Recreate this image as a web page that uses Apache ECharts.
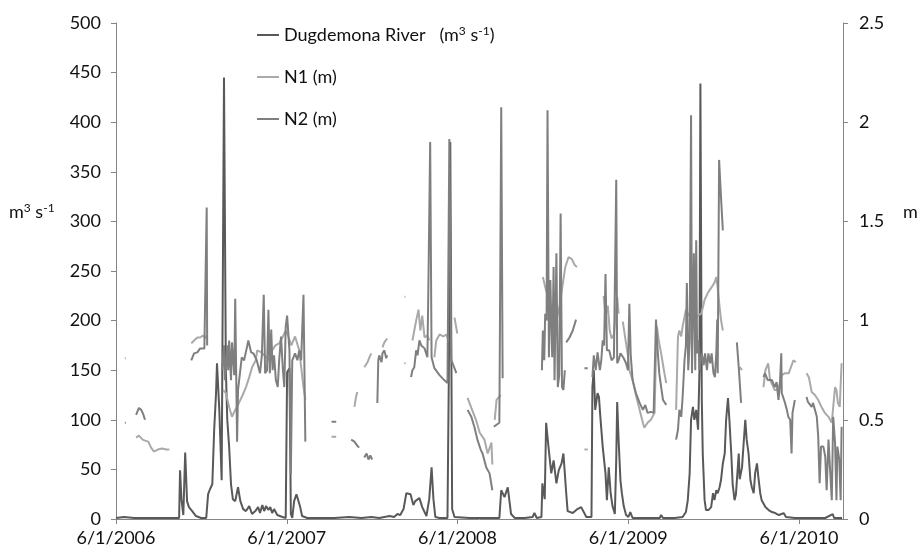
<!DOCTYPE html>
<html>
<head>
<meta charset="utf-8">
<script src="https://cdn.jsdelivr.net/npm/echarts@6/dist/echarts.min.js"></script>
<style>
  html, body { margin: 0; padding: 0; background: #fff; }
  #chart { width: 920px; height: 553px; }
</style>
</head>
<body>
<div id="chart"></div>
<script>
// days counted from 6/1/2006
const startDate = Date.UTC(2006, 5, 1);
const xTickDays = [0, 365.25, 730.5, 1095.75, 1461];

// Dugdemona River discharge (m3 s-1)
const riverDay = [
  0, 17, 39, 71, 103, 135, 137, 140, 144, 148,
  152, 156, 163, 171, 182, 193, 197, 201, 206, 210,
  214, 216, 221, 226, 231, 235, 238, 242, 246, 250,
  255, 261, 266, 272, 278, 285, 291, 298, 304, 308,
  313, 317, 321, 326, 330, 334, 338, 345, 356, 363,
  366, 371, 374, 377, 381, 386, 390, 394, 398, 409,
  435, 467, 499, 525, 546, 563, 585, 595, 602, 608,
  615, 621, 630, 636, 640, 649, 655, 664, 670, 675,
  679, 683, 692, 709, 712, 715, 719, 724, 756, 788,
  820, 824, 831, 838, 845, 853, 874, 891, 895, 900,
  910, 912, 917, 920, 925, 931, 936, 942, 947, 953,
  957, 963, 966, 977, 987, 995, 1006, 1017, 1019, 1022,
  1025, 1030, 1033, 1036, 1041, 1047, 1050, 1054, 1058, 1062,
  1067, 1070, 1072, 1075, 1079, 1082, 1086, 1091, 1096, 1100,
  1105, 1131, 1163, 1166, 1170, 1195, 1212, 1219, 1223, 1227,
  1230, 1234, 1237, 1241, 1245, 1248, 1250, 1253, 1255, 1259,
  1262, 1267, 1273, 1277, 1280, 1284, 1287, 1291, 1294, 1298,
  1302, 1305, 1309, 1312, 1316, 1319, 1323, 1326, 1332, 1334,
  1339, 1342, 1346, 1349, 1353, 1357, 1360, 1364, 1367, 1371,
  1374, 1378, 1381, 1389, 1396, 1403, 1410, 1418, 1428, 1433,
  1452, 1484, 1517, 1533, 1536, 1553
];
const riverFlow = [
  1, 2, 1, 1, 1, 1, 49, 20, 4, 67,
  18, 12, 8, 3, 1, 1, 25, 30, 35, 90,
  127, 157, 110, 39, 445, 150, 100, 73, 35, 20,
  18, 32, 18, 10, 8, 13, 5, 8, 12, 6,
  14, 8, 13, 9, 12, 6, 10, 4, 2, 1,
  148, 152, 5, 1, 18, 25, 24, 12, 3, 1,
  1, 1, 2, 1, 2, 1, 3, 2, 5, 4,
  10, 26, 25, 14, 18, 21, 12, 3, 20, 52,
  20, 2, 1, 1, 150, 380, 10, 2, 1, 1,
  1, 29, 22, 32, 5, 1, 1, 2, 6, 1,
  2, 36, 20, 97, 73, 46, 59, 36, 49, 56,
  66, 26, 8, 6, 10, 12, 2, 2, 133, 150,
  110, 127, 123, 103, 73, 46, 19, 52, 26, 13,
  5, 60, 118, 80, 39, 26, 13, 4, 2, 7,
  1, 1, 1, 4, 1, 1, 2, 7, 19, 46,
  100, 113, 100, 110, 90, 150, 439, 120, 66, 19,
  9, 9, 12, 26, 19, 29, 26, 32, 39, 56,
  66, 100, 122, 100, 66, 35, 19, 25, 66, 40,
  52, 73, 100, 80, 66, 39, 32, 26, 46, 56,
  42, 26, 19, 12, 9, 7, 6, 4, 6, 2,
  1, 1, 1, 5, 1, 1
];

// N1 water level (m), null = gap in record
const n1Day = [
  19, 21, null,
  43, 49, 57, 62, 69, 75, 81, 84, 89, 99, 107, 114, null,
  161, 167, 174, 180, 186, 191, 193, null,
  229, 235, 242, 248, 255, 263, 271, 278, 285, 291, 299, 302, 311, 319, 328, 334, 341, 349, 356, 363, 368, 375, 383, 392, 401, 405, null,
  461, 471, null,
  510, 513, 516, null,
  531, 538, 542, 546, null,
  570, 574, 580, null,
  617, 619, null,
  634, 638, 642, 647, 651, 655, 660, 666, 670, null,
  681, 685, 692, 700, 707, 711, null,
  724, 730, null,
  752, 760, 770, 778, 788, 795, 799, 803, 805, null,
  810, 814, 818, 823, null,
  913, 919, 925, 932, 938, 942, 949, 955, 961, 968, 975, 981, 986, null,
  1002, 1009, null,
  1043, 1047, 1052, 1056, 1060, 1065, 1072, 1075, null,
  1084, 1090, 1095, 1098, 1105, 1112, 1120, 1127, 1130, 1137, 1144, 1152, 1155, 1157, 1161, 1166, 1173, 1177, null,
  1198, 1202, 1205, 1209, 1212, 1219, 1225, 1231, 1238, 1244, 1252, 1259, 1266, 1273, 1280, 1284, 1287, 1291, 1294, 1298, null,
  1334, 1339, null,
  1385, 1389, 1395, 1399, 1409, 1416, 1424, 1431, 1439, 1449, 1454, null,
  1477, 1482, 1488, 1495, 1502, 1509, 1516, 1524, 1531, 1534, 1538, 1541, 1544, 1548, 1552
];
const n1Level = [
  0.81, 0.81, null,
  0.41, 0.42, 0.40, 0.395, 0.39, 0.36, 0.34, 0.35, 0.35, 0.355, 0.35, 0.35, null,
  0.885, 0.90, 0.915, 0.915, 0.925, 0.91, 0.925, null,
  0.65, 0.635, 0.565, 0.515, 0.55, 0.585, 0.625, 0.665, 0.715, 0.765, 0.80, 0.85, 0.84, 0.82, 0.80, 0.85, 0.875, 0.885, 0.915, 0.95, 0.925, 0.875, 0.92, 0.85, 0.665, 0.60, null,
  0.415, 0.415, null,
  0.565, 0.61, 0.64, null,
  0.765, 0.79, 0.815, 0.835, null,
  0.865, 0.89, 0.91, null,
  1.12, 1.12, null,
  0.90, 0.95, 1.0, 1.055, 0.95, 1.025, 0.915, 0.925, 0.90, null,
  0.815, 0.90, 0.93, 0.92, 0.93, 0.90, null,
  1.015, 0.935, null,
  0.61, 0.56, 0.50, 0.435, 0.40, 0.33, 0.33, 0.385, 0.275, null,
  0.50, 0.60, 0.59, 0.625, null,
  1.22, 1.16, 1.11, 1.025, 0.95, 1.0, 1.075, 1.175, 1.27, 1.32, 1.31, 1.28, 1.27, null,
  0.35, 0.35, null,
  1.125, 1.025, 1.075, 0.95, 0.91, 0.93, 1.12, 1.035, null,
  0.995, 0.90, 0.825, 0.75, 0.70, 0.625, 0.55, 0.485, 0.46, 0.485, 0.50, 0.535, 0.835, 0.97, 0.90, 0.835, 0.735, 0.685, null,
  0.55, 0.92, 0.95, 0.92, 0.97, 1.055, 1.025, 1.05, 1.0, 1.025, 1.035, 1.105, 1.14, 1.165, 1.19, 1.22, 1.165, 1.07, 1.005, 0.95, null,
  0.765, 0.75, null,
  0.665, 0.75, 0.785, 0.70, 0.65, 0.65, 0.725, 0.735, 0.735, 0.80, 0.79, null,
  0.735, 0.715, 0.64, 0.625, 0.60, 0.565, 0.535, 0.515, 0.485, 0.475, 0.665, 0.65, 0.585, 0.565, 0.785
];

// N2 water level (m), null = gap in record
const n2Day = [
  19, 21, null,
  43, 49, 54, 58, 62, null,
  161, 167, 174, 180, 189, 193, 194, 195, null,
  227, 231, 233, 238, 240, 242, 246, 248, 253, 255,
  259, 261, 269, 274, 280, 283, 289, 294, 301, 308,
  312, 316, 319, 323, 326, 329, 332, 335, 338, 342,
  346, 349, 353, 357, 360, 363, 366, 371, 374, 377,
  383, 388, 392, 396, 401, 405, null,
  461, 471, null,
  503, 510, 516, 520, null,
  531, 536, 540, 544, 548, null,
  559, 561, 563, 568, 570, 574, 578, 580, null,
  617, 619, null,
  631, 634, 638, 642, 645, 649, 653, 660, 666, 668, 672, 675, 681, 692, 700, 709, 713, 717, 720, 728, null,
  752, 760, 767, 773, 780, 784, 792, 799, 805, null,
  808, 814, 820, 824, 827, null,
  911, 913, 916, 918, 921, 923, 926, 929, 933, 936, 938, 942, 945, 948, 951, 954, 957, 960, null,
  963, 970, 977, 984, null,
  1002, 1009, null,
  1019, 1022, 1026, 1030, 1035, 1038, 1041, 1044, 1047, 1050,
  1055, 1060, 1065, 1070, 1072, 1075, 1079, 1082, 1086, 1091,
  1095, 1098, 1101, 1105, 1112, 1120, 1127, 1132, 1137, 1144,
  1150, 1155, 1159, 1162, 1166, 1170, 1177, null,
  1198, 1202, 1205, 1209, 1212, 1216, 1219, 1221, 1224, 1227,
  1230, 1232, 1236, 1239, 1241, 1243, 1246, 1248, 1253, 1257,
  1260, 1264, 1267, 1271, 1274, 1278, 1281, 1284, 1286, 1287,
  1290, 1294, 1298, null,
  1328, 1332, 1333, 1337, null,
  1385, 1388, 1394, 1403, 1409, 1413, 1417, 1420, 1423, 1424,
  1431, 1435, 1438, 1442, 1445, 1447, 1452, null,
  1477, 1480, 1483, 1488, 1491, 1495, 1499, 1502, 1505, 1508,
  1513, 1517, 1520, 1524, 1527, 1531, 1534, 1538, 1541, 1543,
  1547, 1550, 1552
];
const n2Level = [
  0.485, 0.485, null,
  0.525, 0.56, 0.55, 0.53, 0.50, null,
  0.80, 0.835, 0.84, 0.86, 0.86, 0.86, 1.57, 0.875, null,
  0.75, 0.875, 0.70, 0.875, 0.75, 0.90, 0.70, 0.89, 0.725, 1.11,
  0.39, 0.65, 0.815, 0.80, 0.865, 0.90, 0.84, 0.835, 0.80, 0.735,
  0.825, 1.13, 0.735, 0.75, 1.055, 0.735, 0.955, 0.75, 0.825, 0.70,
  0.665, 0.80, 0.92, 0.75, 0.665, 0.97, 1.025, 0.85, 0.225, 0.80,
  0.835, 0.80, 0.85, 0.80, 1.13, 0.39, null,
  0.49, 0.49, null,
  0.40, 0.39, 0.37, 0.36, null,
  0.31, 0.33, 0.30, 0.32, 0.30, null,
  0.585, 0.80, 0.825, 0.79, 0.835, 0.85, 0.81, 0.825, null,
  0.785, 0.785, null,
  0.715, 0.75, 0.765, 0.85, 0.825, 0.90, 0.875, 0.86, 0.815, 1.14, 1.90, 0.815, 0.76, 0.725, 0.705, 0.685, 1.915, 0.80, 0.785, 0.735, null,
  0.55, 0.515, 0.46, 0.40, 0.35, 0.33, 0.26, 0.23, 0.145, null,
  0.465, 0.475, 0.485, 2.075, 0.71, null,
  0.75, 0.95, 0.80, 1.035, 1.0, 2.06, 0.815, 1.205, 0.815, 1.27, 0.70, 1.34, 0.665, 0.725, 1.54, 0.665, 0.65, 0.75, null,
  0.89, 0.915, 0.95, 1.005, null,
  0.76, 0.76, null,
  0.715, 0.825, 0.75, 0.84, 0.75, 0.80, 0.90, 0.875, 1.235, 0.85,
  0.85, 0.80, 0.815, 1.71, 0.785, 0.80, 0.835, 0.84, 0.81, 0.785,
  0.75, 1.085, 0.825, 0.70, 0.635, 0.585, 0.55, 0.575, 0.535, 0.54,
  0.535, 1.005, 0.835, 0.735, 0.665, 0.60, 0.575, null,
  0.40, 0.45, 0.55, 0.515, 0.615, 0.80, 0.875, 1.19, 0.75, 0.90,
  2.035, 0.735, 1.34, 0.75, 1.405, 0.835, 0.90, 0.75, 0.835, 0.775,
  0.835, 0.75, 0.835, 0.785, 0.835, 0.735, 0.715, 0.835, 1.005, 0.735,
  1.81, 1.625, 1.455, null,
  0.89, 0.765, 0.775, 0.585, null,
  0.715, 0.735, 0.70, 0.70, 0.665, 0.69, 0.60, 0.675, 0.835, 0.635,
  0.585, 0.55, 0.515, 0.50, 0.33, 0.535, 0.60, null,
  0.615, 0.59, 0.60, 0.565, 0.585, 0.55, 0.515, 0.415, 0.18, 0.365,
  0.365, 0.315, 0.145, 0.40, 0.265, 0.095, 0.515, 0.385, 0.095, 0.365,
  0.30, 0.095, 0.465
];

const leftTicks = { min: 0, max: 500, interval: 50 };
const rightTicks = { min: 0, max: 2.5, interval: 0.5 };

function pairs(days, vals) {
  const out = [];
  for (let i = 0; i < days.length; i++) {
    if (days[i] === null || vals[i] === null) {
      out.push([days[i - 1] + 0.5, '-']);
    } else {
      out.push([days[i], vals[i]]);
    }
  }
  return out;
}

function dateLabel(v) {
  const d = new Date(startDate + Math.round(v) * 86400000);
  return (d.getUTCMonth() + 1) + '/' + d.getUTCDate() + '/' + d.getUTCFullYear();
}

const font = 'Lato, "Open Sans", sans-serif';
const axisGray = '#868686';
const textColor = '#111';

const chart = echarts.init(document.getElementById('chart'));
chart.setOption({
  animation: false,
  backgroundColor: '#fff',
  textStyle: { fontFamily: font },
  grid: { left: 116, right: 77, top: 23, bottom: 34, containLabel: false },
  legend: {
    orient: 'vertical',
    left: 252,
    top: 20,
    itemWidth: 22,
    itemHeight: 2,
    itemGap: 22,
    icon: 'rect',
    textStyle: {
      fontFamily: font,
      fontSize: 18,
      color: textColor,
      lineHeight: 20,
      rich: {
        t: { fontFamily: font, fontSize: 18, color: textColor },
        sup: { fontFamily: font, fontSize: 12, color: textColor, padding: [0, 0, 8, 0] }
      }
    },
    formatter: function (name) {
      if (name === 'Dugdemona River') {
        return '{t|Dugdemona River   (m}{sup|3}{t| s}{sup|-1}{t|)}';
      }
      return name;
    },
    data: ['Dugdemona River', 'N1 (m)', 'N2 (m)']
  },
  xAxis: {
    type: 'value',
    min: 0,
    max: 1555,
    interval: xTickDays[1],
    axisLine: { show: true, lineStyle: { color: axisGray, width: 1 } },
    axisTick: { show: true, inside: false, length: 5, lineStyle: { color: axisGray } },
    splitLine: { show: false },
    axisLabel: {
      margin: 10,
      fontFamily: font,
      fontSize: 18,
      color: textColor,
      showMaxLabel: false,
      formatter: dateLabel
    }
  },
  yAxis: [
    {
      type: 'value',
      min: leftTicks.min,
      max: leftTicks.max,
      interval: leftTicks.interval,
      axisLine: { show: true, lineStyle: { color: axisGray, width: 1 } },
      axisTick: { show: true, inside: false, length: 5, lineStyle: { color: axisGray } },
      splitLine: { show: false },
      axisLabel: { margin: 15, fontFamily: font, fontSize: 18, color: textColor }
    },
    {
      type: 'value',
      position: 'right',
      min: rightTicks.min,
      max: rightTicks.max,
      interval: rightTicks.interval,
      axisLine: { show: true, lineStyle: { color: axisGray, width: 1 } },
      axisTick: { show: true, inside: false, length: 5, lineStyle: { color: axisGray } },
      splitLine: { show: false },
      axisLabel: { margin: 16, fontFamily: font, fontSize: 18, color: textColor }
    }
  ],
  graphic: [
    {
      type: 'text',
      left: 9,
      top: 202,
      style: {
        text: '{a|m}{s|3}{a| s}{s|-1}',
        rich: {
          a: { fontFamily: font, fontSize: 18, fill: textColor },
          s: { fontFamily: font, fontSize: 12, fill: textColor, padding: [0, 0, 8, 0] }
        }
      }
    },
    {
      type: 'text',
      left: 903,
      top: 203,
      style: { text: 'm', fontFamily: font, fontSize: 18, fill: textColor }
    }
  ],
  series: [
    {
      name: 'Dugdemona River',
      type: 'line',
      yAxisIndex: 0,
      showSymbol: false,
      symbol: 'none',
      connectNulls: false,
      itemStyle: { color: '#595959' },
      lineStyle: { color: '#595959', width: 2 },
      data: pairs(riverDay, riverFlow)
    },
    {
      name: 'N1 (m)',
      type: 'line',
      yAxisIndex: 1,
      showSymbol: false,
      symbol: 'none',
      connectNulls: false,
      itemStyle: { color: '#a9a9a9' },
      lineStyle: { color: '#a9a9a9', width: 2 },
      data: pairs(n1Day, n1Level)
    },
    {
      name: 'N2 (m)',
      type: 'line',
      yAxisIndex: 1,
      showSymbol: false,
      symbol: 'none',
      connectNulls: false,
      itemStyle: { color: '#7f7f7f' },
      lineStyle: { color: '#7f7f7f', width: 2 },
      data: pairs(n2Day, n2Level)
    }
  ]
});
</script>
</body>
</html>
